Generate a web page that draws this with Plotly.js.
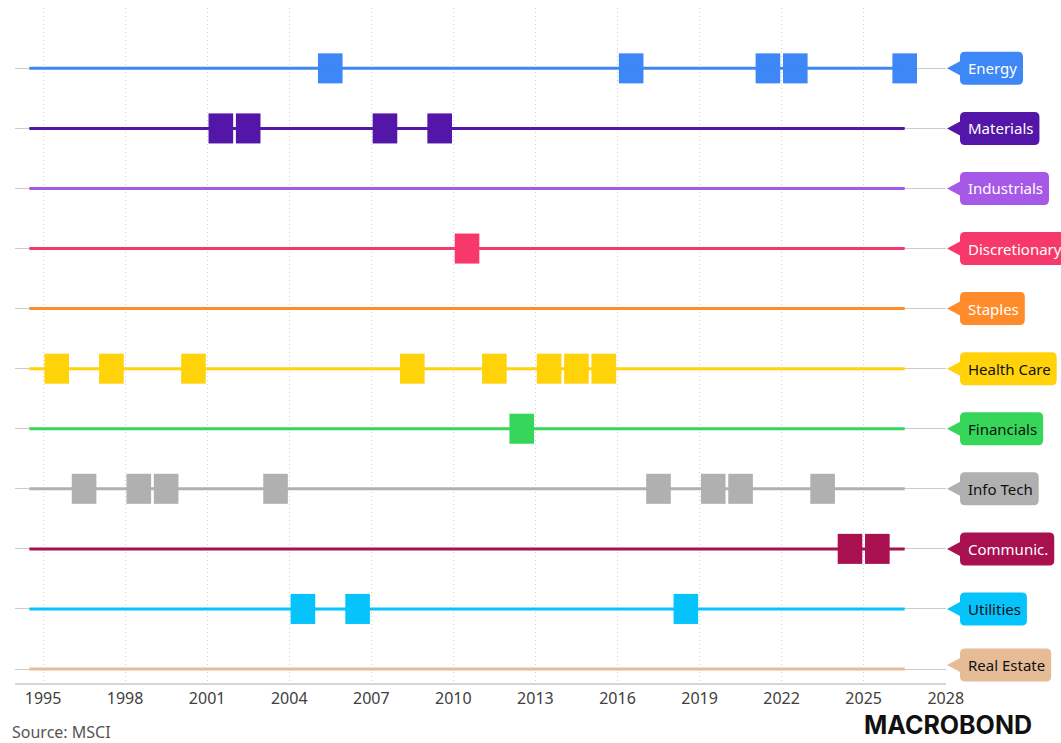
<!DOCTYPE html>
<html>
<head>
<meta charset="utf-8">
<script src="https://cdn.plot.ly/plotly-3.0.1.min.js"></script>
<style>html,body{margin:0;padding:0;background:#fff;}#chart{width:1061px;height:743px;}</style>
</head>
<body>
<div id="chart"></div>
<script>
// ---- data ----
const sectors = ['Energy','Materials','Industrials','Discretionary','Staples','Health Care','Financials','Info Tech','Communic.','Utilities','Real Estate'];
const years = [1995,1996,1997,1998,1999,2000,2001,2002,2003,2004,2005,2006,2007,2008,2009,2010,
               2011,2012,2013,2014,2015,2016,2017,2018,2019,2020,2021,2022,2023,2024,2025,2026];
const winners = ['Health Care','Info Tech','Health Care','Info Tech','Info Tech','Health Care','Materials','Materials',
                 'Info Tech','Utilities','Energy','Utilities','Materials','Health Care','Materials','Discretionary',
                 'Health Care','Financials','Health Care','Health Care','Health Care','Energy','Info Tech','Utilities',
                 'Info Tech','Info Tech','Energy','Energy','Info Tech','Communic.','Communic.','Energy'];
const tickYears = [1995,1998,2001,2004,2007,2010,2013,2016,2019,2022,2025,2028];
const sourceText = 'Source: MSCI';

// ---- styles ----
const colors = ['#3d87f6','#5316a8','#a559e6','#f7386a','#ff8b2b','#ffd20a','#35d65a','#b0b0b0','#a8104f','#06c3fb','#e6bc96'];
const textColors = ['#fff','#fff','#fff','#fff','#fff','#111','#111','#111','#fff','#111','#111'];
const FONT = '"Noto Sans", "Open Sans", sans-serif';
const FS = 15;

const n = sectors.length;
const rowOf = i => n - 1 - i;
const lineStart = years[0] - 0.5, lineEnd = years[years.length - 1] + 0.5;

const traces = [];
sectors.forEach((s, i) => {
  traces.push({
    type: 'scatter', mode: 'lines', x: [lineStart, lineEnd], y: [rowOf(i), rowOf(i)],
    line: {color: colors[i], width: 3}, hoverinfo: 'skip'
  });
});
sectors.forEach((s, i) => {
  const yrs = years.filter((y, k) => winners[k] === s);
  if (!yrs.length) return;
  traces.push({
    type: 'bar', x: yrs.map(y => y + 0.5), y: yrs.map(() => 0.5), base: rowOf(i) - 0.25,
    width: 0.9, marker: {color: colors[i], line: {width: 0}}, hoverinfo: 'skip'
  });
});

// measure text widths for tag labels
const ctx = document.createElement('canvas').getContext('2d');
ctx.font = FS + 'px "Noto Sans"';

const shapes = [];
const annotations = [];
sectors.forEach((s, i) => {
  const w = ctx.measureText(s).width;
  const L = 14, W = L + w + 14, h = 16.5, r = 5, p = 7;
  const path = `M 1,0 L ${L},${p} L ${L},${h - r} Q ${L},${h} ${L + r},${h} L ${W - r},${h} Q ${W},${h} ${W},${h - r} ` +
               `L ${W},${-h + r} Q ${W},${-h} ${W - r},${-h} L ${L + r},${-h} Q ${L},${-h} ${L},${-h + r} L ${L},${-p} Z`;
  const yAnch = rowOf(i) + (rowOf(i) === 0 ? 4 / 60.1 : 0);
  shapes.push({
    type: 'path', xref: 'paper', yref: 'y', xsizemode: 'pixel', ysizemode: 'pixel',
    xanchor: 1, yanchor: yAnch, path: path, fillcolor: colors[i], line: {width: 0}, layer: 'above'
  });
  annotations.push({
    xref: 'paper', yref: 'y', x: 1, y: yAnch, xanchor: 'left', yanchor: 'middle', xshift: 20,
    text: s, showarrow: false, font: {family: FONT, size: FS, color: textColors[i]}
  });
});

annotations.push({
  xref: 'paper', yref: 'paper', x: -0.0054, y: -0.0726, xanchor: 'left', yanchor: 'middle',
  text: sourceText, showarrow: false, font: {family: FONT, size: 16, color: '#555'}
});
annotations.push({
  xref: 'paper', yref: 'paper', x: 0.9098, y: -0.0874, xanchor: 'left', yanchor: 'bottom',
  text: '<b>MACROBOND</b>', showarrow: false, font: {family: 'Inter, "Liberation Sans", sans-serif', size: 25, color: '#111', weight: 900}
});

const layout = {
  width: 1061, height: 743,
  margin: {l: 15, r: 115, t: 8, b: 60},
  paper_bgcolor: '#fff', plot_bgcolor: '#fff',
  showlegend: false, barmode: 'overlay',
  xaxis: {
    range: [1993.975, 2028.01], tickvals: tickYears, ticktext: tickYears.map(String),
    showgrid: true, gridcolor: '#cfcfcf', griddash: '1px,3px', gridwidth: 1,
    zeroline: false, showline: true, linecolor: '#d6d6d6', linewidth: 2, ticks: '',
    tickfont: {family: FONT, size: 16, color: '#404040'}
  },
  yaxis: {
    range: [-0.233, 11.005], tickvals: [0,1,2,3,4,5,6,7,8,9,10,11], showticklabels: false,
    showgrid: true, gridcolor: '#cccccc', gridwidth: 1, zeroline: false, showline: false, ticks: ''
  },
  shapes: shapes, annotations: annotations,
  font: {family: FONT}
};

Plotly.newPlot('chart', traces, layout, {displayModeBar: false, staticPlot: true});
</script>
</body>
</html>
